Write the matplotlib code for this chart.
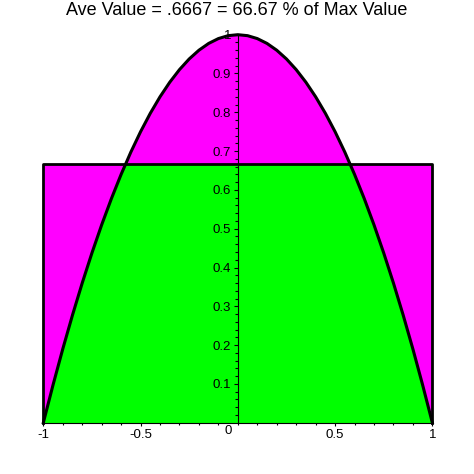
import numpy as np
import matplotlib.pyplot as plt
from matplotlib.patches import Rectangle

plt.rcParams['font.family'] = ['Liberation Sans', 'DejaVu Sans']

# curve y = 1 - x^2 at 0.05 steps
x_pts = [-1.0, -0.95, -0.9, -0.85, -0.8, -0.75, -0.7, -0.65, -0.6, -0.55, -0.5,
         -0.45, -0.4, -0.35, -0.3, -0.25, -0.2, -0.15, -0.1, -0.05, 0.0,
         0.05, 0.1, 0.15, 0.2, 0.25, 0.3, 0.35, 0.4, 0.45, 0.5,
         0.55, 0.6, 0.65, 0.7, 0.75, 0.8, 0.85, 0.9, 0.95, 1.0]
y_pts = [0.0, 0.0975, 0.19, 0.2775, 0.36, 0.4375, 0.51, 0.5775, 0.64, 0.6975, 0.75,
         0.7975, 0.84, 0.8775, 0.91, 0.9375, 0.96, 0.9775, 0.99, 0.9975, 1.0,
         0.9975, 0.99, 0.9775, 0.96, 0.9375, 0.91, 0.8775, 0.84, 0.7975, 0.75,
         0.6975, 0.64, 0.5775, 0.51, 0.4375, 0.36, 0.2775, 0.19, 0.0975, 0.0]
ave_value = 0.6667
x_ticks = [-1, -0.5, 0.5, 1]
x_labels = ['-1', '-0.5', '0.5', '1']
y_ticks = [0.1, 0.2, 0.3, 0.4, 0.5, 0.6, 0.7, 0.8, 0.9, 1.0]
y_labels = ['0.1', '0.2', '0.3', '0.4', '0.5', '0.6', '0.7', '0.8', '0.9', '1']

magenta = '#ff00ff'
green = '#00ff00'

fig = plt.figure(figsize=(4.74, 4.74), dpi=100)
ax = fig.add_axes([0.0914, 0.1082, 0.8207, 0.8186])
ax.set_xlim(-1, 1)
ax.set_ylim(0, 1)

x = np.array(x_pts)
y = np.array(y_pts)

# magenta under rectangle and under curve, green where both overlap
ax.fill_between([-1, 1], 0, ave_value, color=magenta, lw=0, zorder=1)
ax.fill_between(x, 0, y, color=magenta, lw=0, zorder=1)
g = ax.fill_between(x, 0, y, color=green, lw=0, zorder=1.5)
g.set_clip_path(Rectangle((-1, 0), 2, ave_value, transform=ax.transData))

# outlines
ax.plot([-1, -1, 1, 1], [0, ave_value, ave_value, 0], color='black', lw=2.0,
        zorder=3, clip_on=False)
ax.plot(x, y, color='black', lw=2.2, zorder=3, clip_on=False)

# axes through origin
for s in ['top', 'right']:
    ax.spines[s].set_visible(False)
ax.spines['left'].set_position(('data', 0))
ax.spines['bottom'].set_position(('data', 0))
ax.spines['left'].set_zorder(2.5)
ax.spines['bottom'].set_zorder(2.5)
ax.patch.set_visible(False)

ax.set_xticks(x_ticks)
ax.set_xticklabels(x_labels)
ax.set_xticks(np.arange(-0.9, 1.0, 0.1), minor=True)
ax.set_yticks(y_ticks)
ax.set_yticklabels(y_labels)
ax.set_yticks(np.arange(0.02, 1.0, 0.02), minor=True)

ax.tick_params(axis='both', which='major', labelsize=9.5, direction='out')
ax.tick_params(axis='x', which='major', length=2.5, width=0.8, pad=2)
ax.tick_params(axis='x', which='minor', length=1.6, width=0.8)
ax.tick_params(axis='y', which='major', length=3.2, width=0.8, pad=1.5)
ax.tick_params(axis='y', which='minor', length=2.0, width=0.8)

ax.text(-0.05, -0.006, '0', fontsize=9.5, ha='center', va='top')

fig.text(0.5, 0.978, 'Ave Value = .6667 = 66.67 % of Max Value',
         ha='center', va='center', fontsize=13)

fig.savefig('out.png', dpi=100)
